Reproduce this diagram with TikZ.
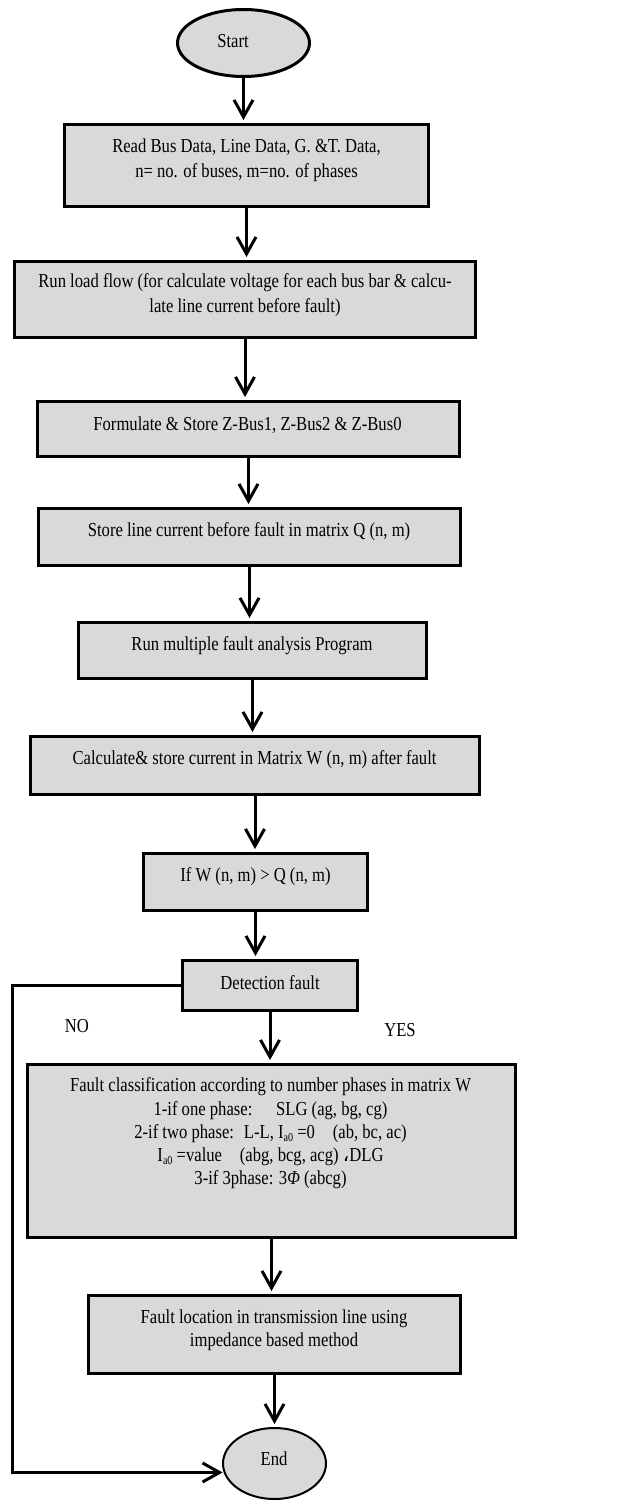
\documentclass[tikz,border=0pt]{standalone}
\usepackage{fontspec}
\setmainfont{Liberation Serif}[FakeStretch=0.84]
\newfontfamily\arabicfont[Script=Arabic]{DejaVu Sans}
\usetikzlibrary{shapes.geometric,arrows.meta}
\definecolor{boxgray}{HTML}{D9D9D9}
\newcommand{\sub}[1]{\raisebox{-0.3ex}{\fontsize{12}{12}\selectfont #1}}
\begin{document}
\begin{tikzpicture}[x=1pt,y=-1pt,
  box/.style={draw, line width=3pt, fill=boxgray, inner sep=0pt},
  term/.style={draw, ellipse, fill=boxgray, inner sep=0pt},
  txt/.style={align=center, inner sep=0pt, font=\fontsize{19.8}{25}\selectfont},
  flow/.style={line width=3pt, -{Straight Barb[length=17pt,width=19pt]}, shorten >=3pt},
  lbl/.style={inner sep=0pt, font=\fontsize{19.8}{22}\selectfont}]
\useasboundingbox (0,0) rectangle (624,1501);

% terminals
\node[term, line width=3pt, minimum width=132pt, minimum height=67pt] (st) at (243.5,43) {};
\node[txt] at (233,41) {Start};

% process boxes
\node[box, minimum width=364pt, minimum height=82pt] (b1) at (246.5,165.5) {};
\node[txt] at (246.5,160.5) {Read Bus Data, Line Data, G. \&T. Data,\\ n= no. of buses, m=no. of phases};

\node[box, minimum width=461pt, minimum height=76pt] (b2) at (245,299.5) {};
\node[txt] at (245,295.5) {Run load flow (for calculate voltage for each bus bar \& calcu-\\ late line current before fault)};

\node[box, minimum width=422pt, minimum height=55pt] (b3) at (248.5,429) {};
\node[txt] at (247.5,425) {Formulate \& Store Z-Bus1, Z-Bus2 \& Z-Bus0};

\node[box, minimum width=422pt, minimum height=57pt] (b4) at (249.5,537) {};
\node[txt] at (249,532) {Store line current before fault in matrix Q (n, m)};

\node[box, minimum width=348pt, minimum height=56pt] (b5) at (252.5,650.5) {};
\node[txt] at (252,646) {Run multiple fault analysis Program};

\node[box, minimum width=449pt, minimum height=58pt] (b6) at (255,765.5) {};
\node[txt] at (254.5,760) {Calculate\& store current in Matrix W (n, m) after fault};

\node[box, minimum width=224pt, minimum height=57pt] (b7) at (255.5,882) {};
\node[txt] at (255.5,877) {If W (n, m) > Q (n, m)};

\node[box, minimum width=175pt, minimum height=50pt] (b8) at (270,985.5) {};
\node[txt] at (270,983) {Detection fault};

\node[box, minimum width=488pt, minimum height=173pt] (b9) at (271.5,1151) {};
\node[txt, font=\fontsize{19.8}{23.3}\selectfont] at (270.5,1133.5) {Fault classification according to number phases in matrix W\\
1-if one phase:\hspace{1.2em}SLG (ag, bg, cg)\\
2-if two phase:\hspace{0.5em}L-L, I\sub{a0} =0\hspace{0.9em}(ab, bc, ac)\\
I\sub{a0} =value\hspace{0.9em}(abg, bcg, acg) {\arabicfont\fontsize{20}{20}\selectfont ،}DLG\\
3-if 3phase: 3\textit{Φ} (abcg)};

\node[box, minimum width=372pt, minimum height=78pt] (b10) at (274.5,1334.5) {};
\node[txt, font=\fontsize{19.8}{23}\selectfont] at (274,1330.5) {Fault location in transmission line using\\ impedance based method};

\node[term, line width=2pt, minimum width=103pt, minimum height=71pt] (en) at (274.5,1463.5) {};
\node[txt] at (274,1459) {End};

% branch labels
\node[lbl] at (77,1026) {NO};
\node[lbl] at (400,1030) {YES};

% main flow
\foreach \a/\b in {st/b1,b1/b2,b2/b3,b3/b4,b4/b5,b5/b6,b6/b7,b7/b8,b8/b9,b9/b10,b10/en}
  \draw[flow] (\a.south) -- (\a.south |- \b.north);

% "NO" branch returning to End
\coordinate (rail) at (12,0);
\draw[flow, shorten >=1pt] (b8.west) -- (b8.west -| rail) -- (rail |- en.190) -- (en.190);
\end{tikzpicture}
\end{document}
